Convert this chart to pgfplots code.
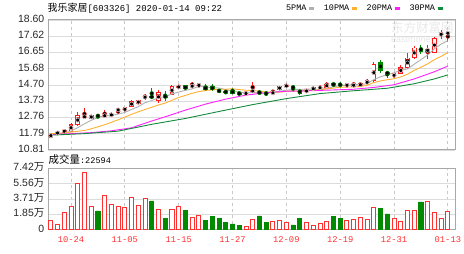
\documentclass[border=0pt]{standalone}
\usepackage{pgfplots}
\pgfplotsset{compat=1.18}
\usepackage{pgfplotstable}
\usepackage{fontspec}
\setmainfont{Liberation Sans}
\newfontfamily\cjk{Noto Sans CJK SC}
\newfontfamily\mono{Liberation Mono}
\definecolor{cred}{HTML}{FF1A1A}
\definecolor{cvred}{HTML}{FF3030}
\definecolor{cgreen}{HTML}{008A00}
\definecolor{cma5}{HTML}{B0B0B0}
\definecolor{cma10}{HTML}{FFB030}
\definecolor{cma20}{HTML}{FF20FF}
\definecolor{cma30}{HTML}{138A3C}
\definecolor{framec}{HTML}{A8A8A8}
\definecolor{gridh}{HTML}{DCDCDC}
\definecolor{gridv}{HTML}{C8C8C8}
\definecolor{wm}{HTML}{E8E8E8}

% up (red) candles: index open high low close volume(10k)
\pgfplotstableread{
x o h l c v
0 11.64 11.79 11.52 11.70 1.17
1 11.82 11.88 11.78 11.84 0.69
2 11.88 12.02 11.85 11.99 2.14
3 11.93 12.41 11.90 12.35 2.87
4 12.33 13.06 12.23 12.88 5.61
5 12.76 13.30 12.65 12.85 6.94
6 12.70 12.93 12.66 12.88 2.87
8 12.82 13.18 12.78 12.91 4.16
9 12.88 12.99 12.85 12.95 3.07
10 13.15 13.30 12.94 13.27 2.87
11 13.15 13.40 13.12 13.35 2.71
12 13.40 13.78 13.38 13.73 3.87
13 13.59 13.80 13.55 13.77 2.99
14 13.89 14.19 13.83 14.07 3.79
16 13.75 14.42 13.65 14.24 2.46
18 14.14 14.68 14.08 14.64 2.46
19 14.56 14.68 14.52 14.62 2.78
21 14.60 14.90 14.56 14.68 1.50
22 14.62 14.80 14.58 14.74 1.69
29 14.18 14.25 14.15 14.21 0.36
30 14.30 14.90 14.24 14.39 1.26
33 14.22 14.42 14.19 14.25 1.05
34 14.44 14.64 14.40 14.60 1.17
35 14.62 14.76 14.56 14.68 0.85
38 14.33 14.42 14.28 14.36 0.89
39 14.40 14.60 14.36 14.56 0.57
40 14.44 14.68 14.40 14.64 0.77
41 14.56 14.90 14.54 14.76 1.05
44 14.66 14.80 14.60 14.72 1.17
45 14.62 14.90 14.58 14.76 1.26
46 14.66 14.82 14.64 14.79 1.45
47 14.79 15.05 14.76 14.95 1.26
48 14.95 16.08 14.85 15.94 2.71
51 15.19 15.49 15.09 15.39 1.38
52 15.41 15.88 15.35 15.74 1.05
53 15.74 16.63 15.68 16.33 2.35
54 16.33 17.03 16.27 16.93 2.35
56 16.73 17.13 16.24 16.83 3.47
57 16.67 17.58 16.61 17.52 2.14
58 17.68 18.03 17.46 17.81 1.38
59 17.76 17.97 17.26 17.86 2.26
}\upT

% down (green) candles
\pgfplotstableread{
x o h l c v
7 12.90 12.93 12.70 12.81 2.26
15 14.04 14.51 13.89 13.95 3.47
17 14.07 14.36 13.77 13.95 1.38
20 14.66 14.70 14.40 14.46 2.38
23 14.60 14.74 14.38 14.42 1.09
24 14.60 14.74 14.36 14.44 1.57
25 14.40 14.44 14.26 14.30 1.38
26 14.32 14.40 14.14 14.27 0.93
27 14.36 14.54 14.17 14.20 0.69
28 14.21 14.24 14.15 14.18 0.48
31 14.27 14.30 14.20 14.24 1.66
32 14.22 14.30 14.07 14.19 0.85
36 14.64 14.68 14.30 14.50 0.57
37 14.42 14.48 14.13 14.17 1.38
42 14.78 14.90 14.56 14.70 1.57
43 14.76 14.90 14.54 14.68 1.38
49 16.08 16.18 15.41 15.55 2.54
50 15.49 15.55 15.15 15.35 1.90
55 16.93 17.13 16.54 16.73 3.35
}\dnT

\pgfplotstableread{
x y
0 11.76
1 11.78
2 11.82
3 11.94
4 12.15
5 12.38
6 12.59
7 12.75
8 12.87
9 12.88
10 12.96
11 13.06
12 13.24
13 13.41
14 13.64
15 13.77
16 13.95
17 14.00
18 14.17
19 14.28
20 14.38
21 14.47
22 14.63
23 14.58
24 14.55
25 14.52
26 14.43
27 14.33
28 14.28
29 14.23
30 14.25
31 14.24
32 14.24
33 14.26
34 14.33
35 14.39
36 14.44
37 14.44
38 14.46
39 14.45
40 14.45
41 14.50
42 14.60
43 14.67
44 14.70
45 14.72
46 14.73
47 14.78
48 15.03
49 15.20
50 15.32
51 15.44
52 15.59
53 15.67
54 15.95
55 16.22
56 16.51
57 16.87
58 17.16
59 17.35
}\maA

\pgfplotstableread{
x y
0 11.79
1 11.81
2 11.84
3 11.88
4 11.93
5 11.98
6 12.08
7 12.20
8 12.32
9 12.47
10 12.62
11 12.78
12 12.95
13 13.10
14 13.24
15 13.37
16 13.51
17 13.62
18 13.79
19 13.96
20 14.08
21 14.21
22 14.31
23 14.38
24 14.41
25 14.45
26 14.45
27 14.48
28 14.43
29 14.39
30 14.38
31 14.34
32 14.28
33 14.27
34 14.28
35 14.32
36 14.34
37 14.34
38 14.36
39 14.39
40 14.42
41 14.47
42 14.52
43 14.57
44 14.58
45 14.59
46 14.61
47 14.69
48 14.85
49 14.95
50 15.02
51 15.08
52 15.19
53 15.35
54 15.58
55 15.77
56 15.97
57 16.23
58 16.42
59 16.65
}\maB

\pgfplotstableread{
x y
0 11.73
3 11.79
6 11.85
9 11.96
12 12.14
15 12.55
17 12.80
20 13.20
23 13.56
26 13.86
29 14.10
32 14.24
35 14.33
40 14.38
45 14.45
48 14.56
51 14.72
54 15.07
57 15.50
59 15.84
}\maC

\pgfplotstableread{
x y
0 11.70
5 11.79
10 11.94
15 12.35
20 12.70
25 13.12
30 13.53
35 13.89
40 14.19
45 14.36
50 14.51
54 14.78
57 15.07
59 15.31
}\maD

\pgfplotsset{
  kpanel/.style={
    scale only axis, anchor=south west,
    xmin=-0.42, xmax=60.06,
    xtick={3,11,19,27,35,43,51,59},
    major tick length=0pt,
    axis line style={draw=framec, line width=1bp},
    ymajorgrids, xmajorgrids,
    y grid style={draw=gridh, line width=0.8bp},
    x grid style={draw=gridv, line width=0.8bp, dash pattern=on 3bp off 3bp},
    yticklabel style={font=\fontsize{10.5}{10.5}\selectfont, text=black!85, inner sep=0pt, anchor=east, xshift=-3.5bp, yshift=1.2bp},
    /pgf/number format/assume math mode=true,
  },
}

\begin{document}
\begin{tikzpicture}
\useasboundingbox (0bp,0bp) rectangle (464bp,254bp);
\node[anchor=west, inner sep=0pt, text=wm] at (391bp,226bp) {\cjk\fontsize{12.5}{12.5}\selectfont 东方财富网};
\node[anchor=west, inner sep=0pt, text=wm] at (391bp,213bp) {\fontsize{9}{9}\selectfont eastmoney.com};

\begin{axis}[kpanel, at={(48bp,104bp)}, width=407bp, height=130bp,
  ymin=10.81, ymax=18.60,
  xticklabels={},
  ytick={10.81,11.79,12.76,13.73,14.70,15.68,16.65,17.62,18.60},
  yticklabels={10.81,11.79,12.76,13.73,14.70,15.68,16.65,17.62,18.60},
  legend columns=4, legend plot pos=right,
  legend image code/.code={\draw[#1, line width=3bp] (0bp,0bp) -- (5bp,0bp);},
  legend style={at={(0.973,1.09)}, anchor=east, draw=none, fill=none,
    inner sep=0pt, outer sep=0pt, text=black,
    font=\mono\fontsize{8.5}{8.5}\selectfont,
    nodes={inner sep=0.3bp},
    /tikz/every odd column/.style={column sep=0.8bp},
    /tikz/every even column/.style={column sep=8bp}},
]
% wicks
\addplot[forget plot, only marks, mark=none, draw=cred,
  error bars/.cd, y dir=both, y explicit, error mark=none,
  error bar style={draw=cred, line width=1bp}]
  table[x=x, y expr={(\thisrow{h}+\thisrow{l})/2}, y error expr={(\thisrow{h}-\thisrow{l})/2}] {\upT};
\addplot[forget plot, only marks, mark=none, draw=cgreen,
  error bars/.cd, y dir=both, y explicit, error mark=none,
  error bar style={draw=cgreen, line width=1bp}]
  table[x=x, y expr={(\thisrow{h}+\thisrow{l})/2}, y error expr={(\thisrow{h}-\thisrow{l})/2}] {\dnT};
% red hollow bodies
\addplot[forget plot, only marks, mark=none, draw=cred,
  error bars/.cd, y dir=both, y explicit, error mark=none,
  error bar style={draw=cred, line width=4.6bp}]
  table[x=x, y expr={(\thisrow{o}+\thisrow{c})/2}, y error expr={abs(\thisrow{c}-\thisrow{o})/2+0.02}] {\upT};
\addplot[forget plot, only marks, mark=none, draw=white,
  error bars/.cd, y dir=both, y explicit, error mark=none,
  error bar style={draw=white, line width=2.8bp}]
  table[x=x, y expr={(\thisrow{o}+\thisrow{c})/2}, y error expr={max(abs(\thisrow{c}-\thisrow{o})/2-0.035,0)}] {\upT};
% green filled bodies
\addplot[forget plot, only marks, mark=none, draw=cgreen,
  error bars/.cd, y dir=both, y explicit, error mark=none,
  error bar style={draw=cgreen, line width=4.6bp}]
  table[x=x, y expr={(\thisrow{o}+\thisrow{c})/2}, y error expr={abs(\thisrow{c}-\thisrow{o})/2+0.02}] {\dnT};
% moving averages
\addplot[cma5, line width=0.9bp] table[x=x, y=y] {\maA};
\addlegendentry{5PMA}
\addplot[cma10, line width=0.9bp] table[x=x, y=y] {\maB};
\addlegendentry{10PMA}
\addplot[cma20, line width=0.9bp] table[x=x, y=y] {\maC};
\addlegendentry{20PMA}
\addplot[cma30, line width=0.9bp] table[x=x, y=y] {\maD};
\addlegendentry{30PMA}
\end{axis}

\node[anchor=west, inner sep=0pt] at (47.5bp,245.5bp) {\cjk\fontsize{10}{10}\selectfont 我乐家居\mono\fontsize{9}{9}\selectfont[603326] 2020-01-14 09:22};
\node[anchor=west, inner sep=0pt] at (48.5bp,94.5bp) {\cjk\fontsize{10.5}{10.5}\selectfont 成交量\mono\fontsize{8.6}{8.6}\selectfont:22594};

\begin{axis}[kpanel, at={(48bp,24.3bp)}, width=407bp, height=61.4bp,
  ymin=0, ymax=7.42,
  xticklabels={10-24,11-05,11-15,11-27,12-09,12-19,12-31,01-13},
  xticklabel style={font=\mono\fontsize{8.8}{8.8}\selectfont, text=cvred, inner sep=0pt, anchor=center, yshift=-10.3bp},
  ytick={0,1.85,3.71,5.56,7.42},
  yticklabels={0,{1.85{\cjk 万}},{3.71{\cjk 万}},{5.56{\cjk 万}},{7.42{\cjk 万}}},
]
\addplot[ybar, bar width=0.6, bar shift=0pt, draw=cvred, fill=white, line width=0.9bp]
  table[x=x, y=v] {\upT};
\addplot[ybar, bar width=0.6, bar shift=0pt, draw=cgreen, fill=cgreen, line width=0.9bp]
  table[x=x, y=v] {\dnT};
\end{axis}
\end{tikzpicture}
\end{document}
